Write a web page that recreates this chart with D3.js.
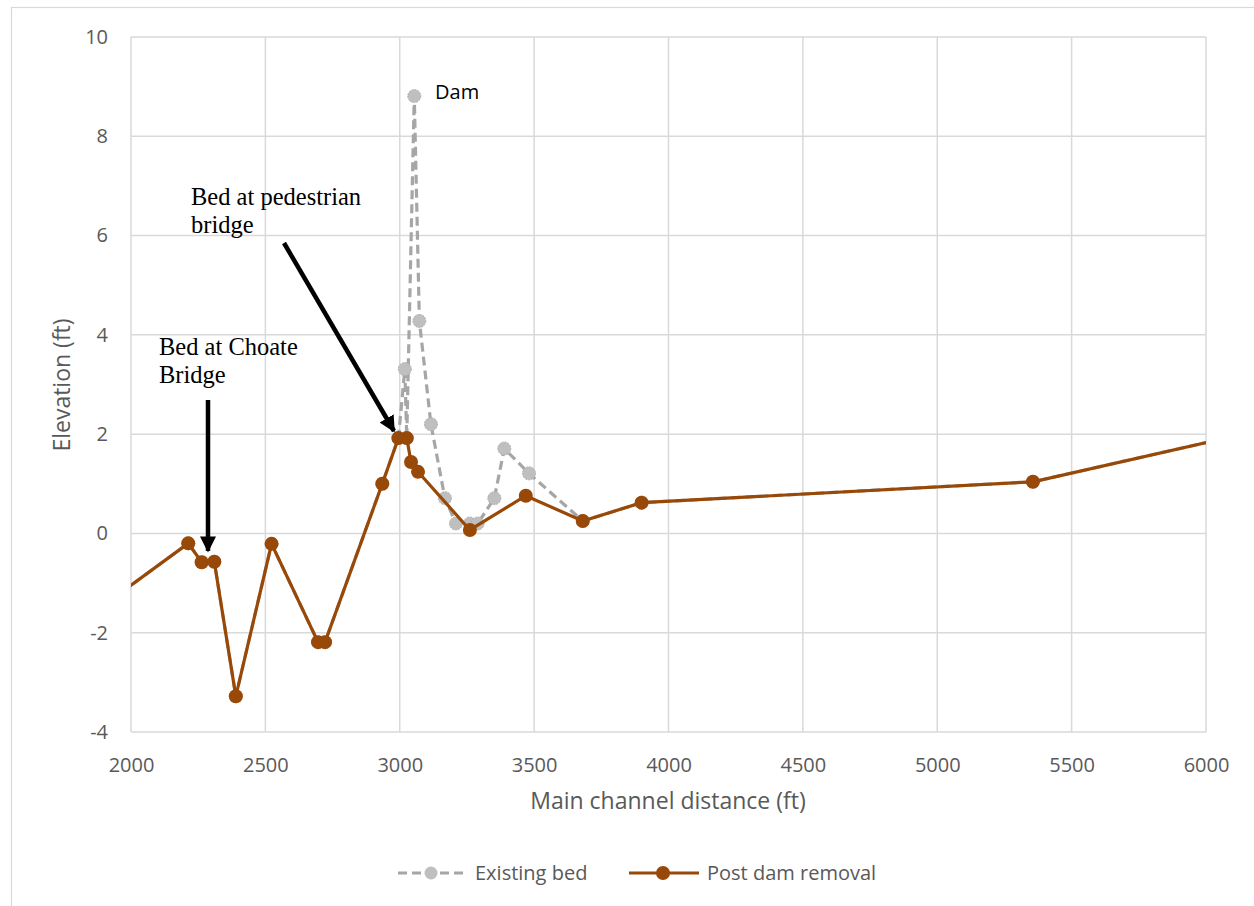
<!DOCTYPE html>
<html><head><meta charset="utf-8">
<script src="https://cdn.jsdelivr.net/npm/d3@7"></script>
<style>body{margin:0;background:#fff}svg{display:block}</style>
</head><body><svg id="c" width="1254" height="906"></svg>
<script>
// Post dam removal profile (distance ft, elevation ft)
const postX = [1800, 2213, 2263, 2310, 2390, 2523, 2696, 2722, 2935, 2995, 3026, 3042, 3068, 3261, 3469, 3681, 3900, 5356, 6400];
const postY = [-1.84, -0.20, -0.58, -0.57, -3.28, -0.21, -2.19, -2.19, 1.00, 1.92, 1.92, 1.44, 1.24, 0.07, 0.76, 0.25, 0.62, 1.04, 2.32];
// Existing bed profile (only differs from post near the dam)
const bedX = [1800, 2213, 2263, 2310, 2390, 2523, 2696, 2722, 2935, 2995, 3019, 3026, 3054, 3073, 3116, 3168, 3209, 3261, 3290, 3352, 3389, 3481, 3681, 3900, 5356, 6400];
const bedY = [-1.84, -0.20, -0.58, -0.57, -3.28, -0.21, -2.19, -2.19, 1.00, 1.92, 3.31, 1.92, 8.81, 4.28, 2.20, 0.71, 0.20, 0.20, 0.20, 0.71, 1.71, 1.21, 0.25, 0.62, 1.04, 2.32];
const xTicks = [2000, 2500, 3000, 3500, 4000, 4500, 5000, 5500, 6000];
const yTicks = [-4, -2, 0, 2, 4, 6, 8, 10];
const seriesNames = ["Existing bed", "Post dam removal"];

const svg = d3.select("#c");
const L = 131, R = 1206, T = 37, B = 732;
const x = d3.scaleLinear().domain([2000, 6000]).range([L, R]);
const y = d3.scaleLinear().domain([-4, 10]).range([B, T]);
const font = "'Open Sans', 'Noto Sans', sans-serif";
const grid = "#d9d9d9", txt = "#595959";
const brown = "#984807", gray = "#bfbfbf", grayLine = "#a6a6a6";

// outer border
svg.append("rect").attr("x", 11.5).attr("y", 7.5).attr("width", 1260).attr("height", 920)
  .attr("fill", "none").attr("stroke", grid).attr("stroke-width", 1.2);

// gridlines
svg.append("g").selectAll("line").data(xTicks).join("line")
  .attr("x1", d => x(d)).attr("x2", d => x(d)).attr("y1", T).attr("y2", B)
  .attr("stroke", grid).attr("stroke-width", 1.5);
svg.append("g").selectAll("line").data(yTicks).join("line")
  .attr("x1", L).attr("x2", R).attr("y1", d => y(d)).attr("y2", d => y(d))
  .attr("stroke", grid).attr("stroke-width", 1.5);

// axes labels via d3 axes
const xa = svg.append("g").attr("transform", `translate(0,${B})`)
  .call(d3.axisBottom(x).tickValues(xTicks).tickFormat(d => String(d)).tickSize(0).tickPadding(26));
const ya = svg.append("g").attr("transform", `translate(${L},0)`)
  .call(d3.axisLeft(y).tickValues(yTicks).tickFormat(d => String(d)).tickSize(0).tickPadding(23));
[xa, ya].forEach(a => {
  a.select(".domain").remove();
  a.selectAll("text").attr("fill", txt).style("font-family", font).style("font-size", "20px");
});

svg.append("text").attr("x", 668).attr("y", 809).attr("text-anchor", "middle")
  .attr("fill", txt).style("font-family", font).style("font-size", "23px").text("Main channel distance (ft)");
svg.append("text").attr("transform", `translate(70,${385}) rotate(-90)`).attr("text-anchor", "middle")
  .attr("fill", txt).style("font-family", font).style("font-size", "23px").text("Elevation (ft)");

// clip
svg.append("clipPath").attr("id", "clip").append("rect").attr("x", L).attr("y", T - 10).attr("width", R - L).attr("height", B - T + 20);
const plot = svg.append("g").attr("clip-path", "url(#clip)");
const line = d3.line().x(d => x(d[0])).y(d => y(d[1]));

const bed = bedX.map((v, i) => [v, bedY[i]]);
const post = postX.map((v, i) => [v, postY[i]]);

plot.append("path").datum(bed).attr("d", line).attr("fill", "none").attr("stroke", grayLine)
  .attr("stroke-width", 3.2).attr("stroke-dasharray", "9,5");
plot.append("g").selectAll("circle").data(bed).join("circle")
  .attr("cx", d => x(d[0])).attr("cy", d => y(d[1])).attr("r", 6.5)
  .attr("fill", gray).attr("stroke", "#b0b0b0").attr("stroke-width", 1).attr("stroke-dasharray", "2,1");
plot.append("path").datum(post).attr("d", line).attr("fill", "none").attr("stroke", brown).attr("stroke-width", 3.2);
plot.append("g").selectAll("circle").data(post).join("circle")
  .attr("cx", d => x(d[0])).attr("cy", d => y(d[1])).attr("r", 7).attr("fill", brown);

// annotations
svg.append("defs").append("marker").attr("id", "ah").attr("viewBox", "0 0 10 10").attr("refX", 9).attr("refY", 5)
  .attr("markerWidth", 3.6).attr("markerHeight", 3.6).attr("orient", "auto")
  .append("path").attr("d", "M0,0 L10,5 L0,10 z").attr("fill", "#000");
svg.append("line").attr("x1", 208).attr("y1", 400).attr("x2", 208).attr("y2", 551)
  .attr("stroke", "#000").attr("stroke-width", 4.5).attr("marker-end", "url(#ah)");
svg.append("line").attr("x1", 284).attr("y1", 243).attr("x2", 394).attr("y2", 431)
  .attr("stroke", "#000").attr("stroke-width", 4.5).attr("marker-end", "url(#ah)");

const serif = "'Liberation Serif', 'DejaVu Serif', serif";
[["Bed at pedestrian", 191, 205], ["bridge", 191, 233], ["Bed at Choate", 159, 355], ["Bridge", 159, 383]].forEach(t => {
  svg.append("text").attr("x", t[1]).attr("y", t[2]).attr("fill", "#000")
    .style("font-family", serif).style("font-size", "24.5px").text(t[0]);
});
svg.append("text").attr("x", 435).attr("y", 99).attr("fill", "#000")
  .style("font-family", font).style("font-size", "20px").text("Dam");

// legend
const lg = svg.append("g");
lg.append("line").attr("x1", 398).attr("x2", 467).attr("y1", 873).attr("y2", 873)
  .attr("stroke", grayLine).attr("stroke-width", 3.2).attr("stroke-dasharray", "9,5");
lg.append("circle").attr("cx", 431).attr("cy", 873).attr("r", 6.5).attr("fill", gray);
lg.append("text").attr("x", 475).attr("y", 880).attr("fill", txt).style("font-family", font).style("font-size", "20px").text(seriesNames[0]);
lg.append("line").attr("x1", 629).attr("x2", 699).attr("y1", 873).attr("y2", 873).attr("stroke", brown).attr("stroke-width", 3.2);
lg.append("circle").attr("cx", 663).attr("cy", 873).attr("r", 7).attr("fill", brown);
lg.append("text").attr("x", 707).attr("y", 880).attr("fill", txt).style("font-family", font).style("font-size", "20px").text(seriesNames[1]);
</script></body></html>
